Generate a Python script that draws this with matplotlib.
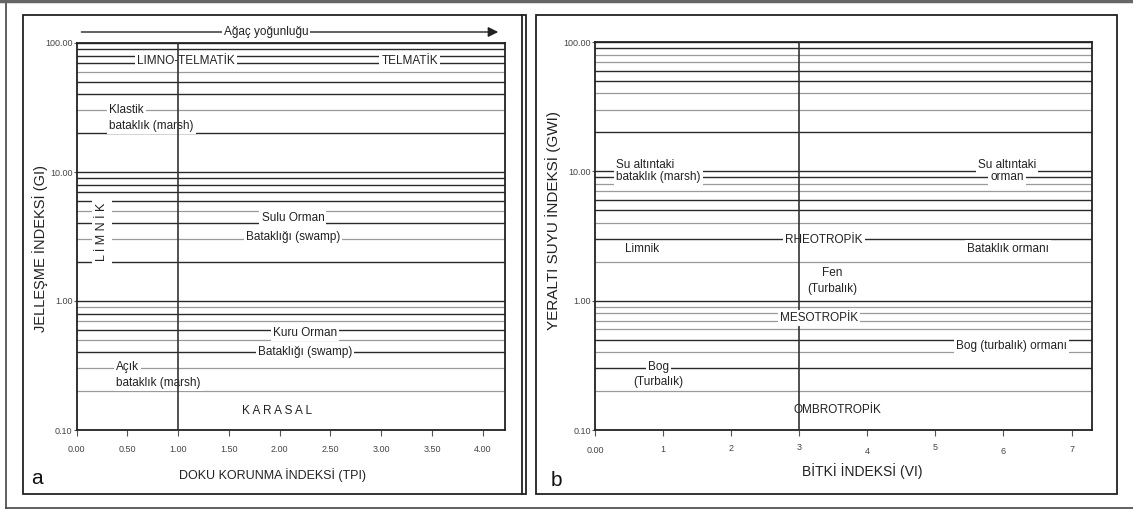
import matplotlib.pyplot as plt
from matplotlib.lines import Line2D
from matplotlib.patches import Rectangle
from matplotlib.ticker import NullLocator

plt.rcParams['font.family'] = ['Liberation Sans', 'DejaVu Sans']

W, H = 1133, 509

# Horizontal class lines (1..9 x each decade), darker ones listed separately
grid_values = [m * 10.0 ** e for e in (-1, 0, 1) for m in range(1, 10)] + [100.0]
left_dark = [100, 90, 80, 70, 50, 40, 20, 10, 9, 8, 7, 6, 4, 2, 1, 0.8, 0.6, 0.4]
right_dark = [100, 90, 60, 50, 20, 10, 9, 6, 5, 3, 1, 0.5, 0.3]

# Panel a: TPI vs GI
left_xticks = [0, 0.5, 1.0, 1.5, 2.0, 2.5, 3.0, 3.5, 4.0]
left_xticklabels = ["0.00", "0.50", "1.00", "1.50", "2.00", "2.50", "3.00", "3.50", "4.00"]
left_split = 1.0
left_labels = [
    ("LIMNO-TELMATİK", 1.075, 73, "center"),
    ("TELMATİK", 3.28, 73, "center"),
    ("Klastik", 0.32, 30, "left"),
    ("bataklık (marsh)", 0.32, 22.7, "left"),
    ("Sulu Orman", 2.13, 4.37, "center"),
    ("Bataklığı (swamp)", 2.13, 3.15, "center"),
    ("Kuru Orman", 2.25, 0.565, "center"),
    ("Bataklığı (swamp)", 2.25, 0.404, "center"),
    ("Açık", 0.39, 0.31, "left"),
    ("bataklık (marsh)", 0.39, 0.23, "left"),
    ("K A R A S A L", 1.97, 0.14, "center"),
]

# Panel b: VI vs GWI
right_xticks = [0, 1, 2, 3, 4, 5, 6, 7]
right_xticklabels = ["0.00", "1", "2", "3", "4", "5", "6", "7"]
right_label_shift = [0.7, 0, -1, -2.7, 1.7, -2, 2, 0]  # hand-lettered jitter, px
right_split = 3.0
right_labels = [
    ("Su altıntaki", 0.31, 11.1, "left"),
    ("bataklık (marsh)", 0.31, 8.98, "left"),
    ("Su altıntaki", 6.05, 11.1, "center"),
    ("orman", 6.05, 8.98, "center"),
    ("Limnik", 0.44, 2.5, "left"),
    ("RHEOTROPİK", 3.36, 2.95, "center"),
    ("Bataklık ormanı", 6.07, 2.53, "center"),
    ("Fen", 3.49, 1.65, "center"),
    ("(Turbalık)", 3.49, 1.24, "center"),
    ("MESOTROPİK", 3.29, 0.738, "center"),
    ("Bog (turbalık) ormanı", 6.12, 0.448, "center"),
    ("Bog", 0.93, 0.308, "center"),
    ("(Turbalık)", 0.93, 0.235, "center"),
    ("OMBROTROPİK", 3.56, 0.1435, "center"),
]

box = dict(facecolor="white", edgecolor="none", pad=1.5)


def fx(x):
    return x / W


def fy(y):
    return 1 - y / H


def setup(ax, xmax, xticks, xticklabels, dark, split, labels):
    ax.set_yscale("log")
    ax.set_xlim(0, xmax)
    ax.set_ylim(0.1, 100)
    for v in grid_values:
        if any(abs(v - d) < 1e-9 for d in dark):
            ax.axhline(v, color="#2a2a2a", lw=1.0, zorder=1)
        else:
            ax.axhline(v, color="#9a9a9a", lw=0.9, zorder=1)
    for text, x, y, ha in labels:
        z = 5 if text == "MESOTROPİK" else 3
        ax.text(x, y, text, ha=ha, va="center", fontsize=8.5, color="#222",
                bbox=box, zorder=z)
    ax.axvline(split, color="#333", lw=1.2, zorder=4)
    ax.set_yticks([0.1, 1, 10, 100])
    ax.set_yticklabels(["0.10", "1.00", "10.00", "100.00"])
    ax.yaxis.set_minor_locator(NullLocator())
    ax.set_xticks(xticks)
    ax.set_xticklabels(xticklabels)
    ax.tick_params(axis="y", direction="out", length=2.5, width=0.8, color="#555",
                   labelsize=6.5, labelcolor="#444", pad=0.5)
    ax.tick_params(axis="x", direction="out", length=4, width=0.8, color="#555",
                   labelsize=6.5, labelcolor="#444", pad=7)
    for s in ax.spines.values():
        s.set_color("#222")
        s.set_linewidth(1.3)


fig = plt.figure(figsize=(W / 100, H / 100), dpi=100)

axL = fig.add_axes([fx(76.7), fy(430), (505 - 76.7) / W, 387 / H])
axR = fig.add_axes([fx(595), fy(430), (1092 - 595) / W, 388 / H])

setup(axL, 4.22, left_xticks, left_xticklabels, left_dark, left_split, left_labels)
setup(axR, 7.3, right_xticks, right_xticklabels, right_dark, right_split, right_labels)

axL.set_xlabel("DOKU KORUNMA İNDEKSİ (TPI)", fontsize=9, color="#222")
axL.set_ylabel("JELLEŞME İNDEKSİ (GI)", fontsize=10.5, color="#222")
axR.set_xlabel("BİTKİ İNDEKSİ (VI)", fontsize=10, color="#222")
axR.set_ylabel("YERALTI SUYU İNDEKSİ (GWI)", fontsize=11, color="#222")

axL.xaxis.set_label_coords(0.458, -0.098)
axL.yaxis.set_label_coords(-0.067, 0.468)
axR.xaxis.set_label_coords(0.537, -0.085)
axR.yaxis.set_label_coords(-0.068, 0.54)

for lab, dy in zip(axR.get_xticklabels(), right_label_shift):
    lab.set_y(-dy / 388)

# vertical LİMNİK label
axL.text(0.25, 3.45, "L İ M N İ K", rotation=90, ha="center", va="center",
         fontsize=9, color="#222", bbox=dict(facecolor="white", edgecolor="none", pad=3),
         zorder=3)

# tree density arrow above panel a
axL.annotate("", xy=(fx(501), fy(32)), xycoords="figure fraction",
             xytext=(fx(78.6), fy(32)), textcoords="figure fraction",
             arrowprops=dict(arrowstyle="-|>", color="#222", lw=1.0, mutation_scale=15))
fig.text(fx(266), fy(32), "Ağaç yoğunluğu", ha="center", va="center", fontsize=8.5,
         color="#222", bbox=box, zorder=3)

# panel letters
fig.text(fx(37), fy(479), "a", ha="center", va="center", fontsize=15, color="#111")
fig.text(fx(556), fy(480), "b", ha="center", va="center", fontsize=15, color="#111")

# panel frames and outer border
for x0, x1 in [(23, 526), (536, 1117)]:
    fig.add_artist(Rectangle((fx(x0), fy(494)), (x1 - x0) / W, (494 - 15) / H,
                             transform=fig.transFigure, fill=False,
                             edgecolor="#222", lw=1.3))
fig.add_artist(Line2D([fx(522), fx(522)], [fy(15), fy(494)], transform=fig.transFigure,
                      color="#222", lw=1.3))
fig.add_artist(Line2D([fx(6), fx(6)], [fy(0), fy(508)], transform=fig.transFigure,
                      color="#444", lw=1.2))
fig.add_artist(Line2D([fx(6), fx(1133)], [fy(508), fy(508)], transform=fig.transFigure,
                      color="#444", lw=1.2))
fig.add_artist(Line2D([0, 1], [fy(1), fy(1)], transform=fig.transFigure,
                      color="#666", lw=2.5))

fig.savefig("out.png", dpi=100)
